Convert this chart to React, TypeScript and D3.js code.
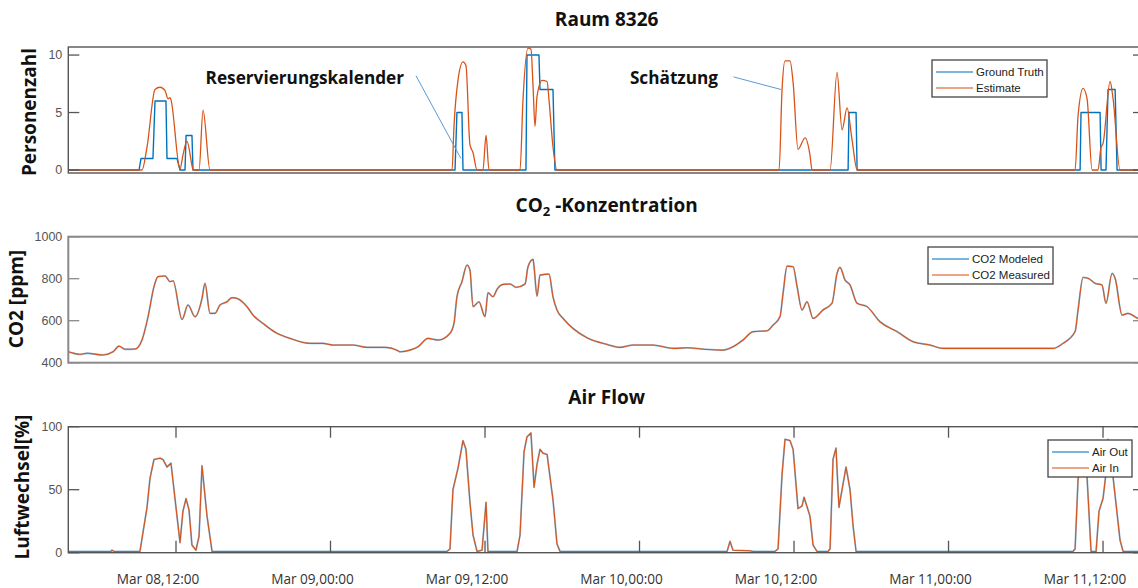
import React from 'react';
import * as d3 from 'd3';

// time axis: hours counted from Mar 08 00:00 (UTC so no DST surprises)
const baseTime = Date.UTC(2019, 2, 8, 0, 0, 0);
const at = (h: number) => new Date(baseTime + h * 3600 * 1000);

const tStart = 3.635;
const tEnd = 87.26;

// Raum 8326 - persons [hour, value]
const groundTruth: [number, number][] = [
  [3.635, 0], [9.13, 0], [9.28, 1], [10.21, 1], [10.37, 6], [11.22, 6], [11.3, 1], [12.08, 1], [12.31, 0],
  [12.7, 0], [12.78, 3], [13.24, 3], [13.32, 0], [33.67, 0], [33.82, 5], [34.21, 5], [34.29, 0],
  [39.18, 0], [39.26, 10], [40.19, 10], [40.27, 7], [41.28, 7], [41.43, 0], [64.2, 0], [64.27, 5],
  [64.82, 5], [64.9, 0], [82.22, 0], [82.29, 5], [83.77, 5], [83.85, 0], [84.23, 0], [84.39, 7],
  [84.94, 7], [85.09, 0], [87.26, 0],
];

const estimate: [number, number][] = [
  [3.635, 0], [9.36, 0], [9.75, 2.0], [10.37, 7.0], [10.76, 7.2], [11.15, 6.9], [11.38, 6.2], [11.53, 6.3],
  [11.61, 6.1], [12.31, 0.1], [12.54, 1.3], [12.85, 2.5], [13.24, 0.4], [13.32, 0], [13.79, 0], [14.1, 5.2],
  [14.64, 0], [33.44, 0], [33.59, 3.8], [33.9, 7.8], [34.29, 9.4], [34.52, 9.1], [34.83, 2.2], [35.07, 1.5],
  [35.38, 0], [35.84, 0], [36.08, 3.0], [36.31, 0], [38.72, 0], [38.95, 6.1], [39.34, 10.6], [39.57, 10.5],
  [39.73, 7.3], [39.88, 3.8], [40.04, 6.4], [40.43, 7.8], [40.82, 7.7], [40.97, 6.1], [41.28, 2.0], [41.59, 0],
  [58.84, 0], [59.07, 7.0], [59.3, 9.5], [59.69, 9.5], [59.93, 7.6], [60.31, 1.8], [60.86, 2.8], [61.24, 1.3],
  [61.4, 0], [62.8, 0], [63.34, 8.5], [63.73, 3.5], [64.12, 5.4], [64.51, 2.6], [64.9, 0], [81.83, 0],
  [82.06, 4.7], [82.45, 7.1], [82.76, 6.2], [83.15, 0], [83.61, 0], [83.85, 2.0], [84.0, 2.3], [84.55, 7.7],
  [84.78, 6.2], [85.32, 0], [87.26, 0],
];

// CO2 [ppm]
const co2Measured: [number, number][] = [
  [3.635, 452], [4.54, 440], [5.09, 445], [6.33, 437], [7.11, 452], [7.57, 479], [8.04, 464], [8.82, 465],
  [9.36, 508], [9.83, 619], [10.29, 762], [10.6, 810], [11.15, 813], [11.53, 786], [11.77, 790], [12.47, 606],
  [12.93, 675], [13.48, 619], [14.02, 706], [14.25, 778], [14.64, 635], [15.03, 635], [15.42, 675], [15.96, 690],
  [16.35, 710], [16.74, 706], [17.51, 667], [17.98, 627], [18.76, 587], [19.84, 540], [20.85, 516], [22.41, 492],
  [23.42, 492], [24.19, 484], [25.75, 484], [26.83, 473], [28.23, 473], [29.24, 457], [29.4, 452], [30.17, 460],
  [30.8, 476], [31.57, 516], [32.35, 508], [33.28, 540], [33.59, 587], [33.82, 714], [34.21, 786], [34.6, 865],
  [34.83, 841], [35.07, 667], [35.53, 690], [36.0, 619], [36.23, 733], [36.62, 714], [36.93, 749], [37.4, 773],
  [37.94, 775], [38.41, 759], [39.11, 775], [39.34, 857], [39.73, 892], [39.81, 857], [40.04, 717], [40.27, 817],
  [40.97, 822], [41.28, 714], [41.59, 651], [42.06, 611], [42.84, 563], [43.92, 519], [45.48, 487], [46.49, 473],
  [47.5, 484], [49.05, 484], [50.61, 468], [51.69, 471], [53.24, 463], [54.49, 460], [55.26, 476], [56.04, 508],
  [56.82, 548], [57.9, 552], [58.37, 579], [58.91, 619], [59.15, 730], [59.46, 860], [59.93, 857], [60.24, 762],
  [60.62, 651], [61.01, 690], [61.48, 611], [62.25, 651], [62.95, 683], [63.34, 825], [63.57, 854], [63.96, 794],
  [64.35, 770], [64.9, 683], [65.67, 667], [66.68, 595], [68.0, 548], [69.24, 500], [70.56, 484], [71.57, 468],
  [80.12, 468], [80.89, 492], [81.83, 548], [82.06, 651], [82.45, 806], [82.84, 802], [83.38, 778], [83.92, 770],
  [84.23, 683], [84.7, 825], [84.94, 802], [85.48, 627], [85.94, 635], [86.72, 611], [87.26, 605],
];
// model follows the measurement so closely the two lines coincide
const co2Modeled: [number, number][] = co2Measured.map(d => [d[0], d[1]]);

// air flow [%]
const airIn: [number, number][] = [
  [3.635, 1], [6.95, 1], [7.03, 2], [7.2, 1], [9.2, 1], [9.75, 36], [9.98, 59], [10.29, 74], [10.76, 75],
  [10.99, 74], [11.3, 68], [11.61, 71], [12.31, 8], [12.54, 33], [12.78, 43], [13.01, 34], [13.24, 6], [13.55, 2],
  [13.79, 13], [14.02, 69], [14.41, 29], [14.8, 1], [33.05, 1], [33.28, 3], [33.51, 50], [33.9, 67], [34.29, 89],
  [34.52, 82], [34.83, 40], [35.07, 14], [35.38, 1], [35.77, 2], [36.08, 40], [36.23, 1], [38.49, 1], [38.72, 14],
  [39.03, 80], [39.26, 92], [39.57, 95], [39.81, 52], [40.04, 70], [40.27, 82], [40.5, 79], [40.82, 78], [41.28, 42],
  [41.59, 7], [41.83, 1], [54.8, 1], [55.03, 9], [55.26, 2], [56.58, 1.5], [56.82, 1], [58.52, 1], [58.76, 3],
  [59.07, 62], [59.3, 90], [59.69, 89], [59.93, 82], [60.31, 35], [60.62, 37], [60.78, 44], [61.24, 29], [61.48, 6],
  [61.79, 1], [62.64, 1], [62.8, 3], [63.03, 74], [63.26, 83], [63.49, 36], [64.04, 68], [64.35, 50], [64.59, 21],
  [64.82, 1], [81.67, 1], [81.83, 3], [82.06, 58], [82.45, 88], [82.76, 60], [83.07, 1], [83.46, 1], [83.69, 33],
  [84.0, 43], [84.23, 63], [84.39, 90], [84.78, 60], [85.32, 10], [85.56, 1], [87.26, 1],
];
const airOut: [number, number][] = airIn.map(d => [d[0], d[1]]);

const personTicks = [0, 5, 10];
const co2Ticks = [400, 600, 800, 1000];
const airTicks = [0, 50, 100];

const BLUE = '#0072BD';
const ORANGE = '#D95319';
const sans = '"Liberation Sans", Arial, sans-serif';
const bold = '"Open Sans", sans-serif';

const W = 1138;
const H = 588;
const left = 68.3;
const right = 1145;

const x = d3.scaleUtc().domain([at(tStart), at(tEnd)]).range([left, right]);
const timeTicks = x.ticks(d3.utcHour.every(12) as any);
const fmt = d3.utcFormat('%b %d,%H:%M');

type Series = { name: string; color: string; width: number; opacity?: number; smooth?: boolean; data: [number, number][] };

function Panel(props: {
  id: string; top: number; bottom: number; domain: [number, number]; ticks: number[];
  series: Series[]; frame: string; frameWidth: number; xTicks?: boolean;
  legend: { x: number; y: number; w: number; names: string[] };
}) {
  const { id, top, bottom, domain, ticks, series, frame, frameWidth, xTicks, legend } = props;
  const y = d3.scaleLinear().domain(domain).range([bottom, top]);
  const line = (s: Series) => d3.line<[number, number]>()
    .x(d => x(at(d[0])))
    .y(d => y(d[1]))
    .curve(s.smooth ? d3.curveMonotoneX : d3.curveLinear)(s.data) || '';
  return (
    <g>
      <clipPath id={'clip-' + id}>
        <rect x={left} y={top} width={right - left} height={bottom - top} />
      </clipPath>
      <g clipPath={`url(#clip-${id})`}>
        {series.map(s => (
          <path key={s.name} d={line(s)} fill="none" stroke={s.color} strokeWidth={s.width}
            strokeOpacity={s.opacity ?? 1} strokeLinejoin="round" />
        ))}
      </g>
      <rect x={left} y={top} width={right - left} height={bottom - top} fill="none" stroke={frame}
        strokeWidth={frameWidth} />
      {ticks.map(t => (
        <g key={t}>
          <line x1={left} x2={left + 11} y1={y(t)} y2={y(t)} stroke={frame} strokeWidth={1.3} />
          <line x1={right - 12} x2={right} y1={y(t)} y2={y(t)} stroke={frame} strokeWidth={1.3} />
          <text x={left - 6} y={y(t)} dy="0.35em" textAnchor="end" fontFamily={sans} fontSize={12.5}
            fill="#555">{t}</text>
        </g>
      ))}
      {xTicks && timeTicks.map(t => (
        <g key={+t}>
          <line x1={x(t)} x2={x(t)} y1={top} y2={top + 11} stroke={frame} strokeWidth={1.3} />
          <line x1={x(t)} x2={x(t)} y1={bottom - 12} y2={bottom} stroke={frame} strokeWidth={1.3} />
          <text x={x(t)} dx={-18} y={bottom + 31} textAnchor="middle" fontFamily={bold} fontSize={13.6}
            fill="#333">{fmt(t)}</text>
        </g>
      ))}
      <g>
        <rect x={legend.x} y={legend.y} width={legend.w} height={37} fill="#fff" stroke="#444" strokeWidth={1.3} />
        {legend.names.map((n, i) => (
          <g key={n}>
            <line x1={legend.x + 4} x2={legend.x + 41} y1={legend.y + 12 + i * 16} y2={legend.y + 12 + i * 16}
              stroke={i === 0 ? BLUE : ORANGE} strokeOpacity={0.7} strokeWidth={1.5} />
            <text x={legend.x + 44} y={legend.y + 12 + i * 16} dy="0.35em" fontFamily={sans} fontSize={11.5}
              fill="#222">{n}</text>
          </g>
        ))}
      </g>
    </g>
  );
}

// annotation callouts, anchored in data coordinates of the top panel
const callouts = [
  { label: 'Reservierungskalender', textT: 29.71, fromT: 30.64, fromV: 8.2, toT: 34.13, toV: 1.0 },
  { label: 'Schätzung', textT: 54.1, fromT: 55.3, fromV: 8.1, toT: 59.0, toV: 7.0 },
];

const titleSize = 19;

export default function App() {
  const yTop = d3.scaleLinear().domain([-0.26, 10.7]).range([173, 47]);
  return (
    <svg width={W} height={H} style={{ position: 'absolute', left: 0, top: 0, background: '#fff' }}>
      <rect width={W} height={H} fill="#fff" />
      <text x={(left + right) / 2} y={26} textAnchor="middle" fontFamily={bold} fontWeight={700}
        fontSize={titleSize} fill="#111">Raum 8326</text>
      <text x={(left + right) / 2} y={212} textAnchor="middle" fontFamily={bold} fontWeight={700}
        fontSize={titleSize} fill="#111">CO<tspan dy={4} fontSize={13}>2</tspan><tspan dy={-4}> -Konzentration</tspan></text>
      <text x={(left + right) / 2} y={404} textAnchor="middle" fontFamily={bold} fontWeight={700}
        fontSize={titleSize} fill="#111">Air Flow</text>

      <text transform="translate(36,112) rotate(-90)" textAnchor="middle" fontFamily={bold} fontWeight={700}
        fontSize={titleSize} fill="#111">Personenzahl</text>
      <text transform="translate(23,299) rotate(-90)" textAnchor="middle" fontFamily={bold} fontWeight={700}
        fontSize={titleSize} fill="#111">CO2 [ppm]</text>
      <text transform="translate(29,487) rotate(-90)" textAnchor="middle" fontFamily={bold} fontWeight={700}
        fontSize={titleSize} fill="#111">Luftwechsel[%]</text>

      <Panel id="p" top={47} bottom={173} domain={[-0.26, 10.7]} ticks={personTicks} frame="#555" frameWidth={1.4}
        series={[
          { name: 'Ground Truth', color: BLUE, width: 1.4, data: groundTruth },
          { name: 'Estimate', color: ORANGE, width: 1.3, smooth: true, data: estimate },
        ]}
        legend={{ x: 932, y: 60, w: 115, names: ['Ground Truth', 'Estimate'] }} />
      <Panel id="c" top={236.7} bottom={362.7} domain={[400, 1000]} ticks={co2Ticks} frame="#8a8a8a" frameWidth={2}
        series={[
          { name: 'CO2 Modeled', color: BLUE, width: 1.8, opacity: 0.45, smooth: true, data: co2Modeled },
          { name: 'CO2 Measured', color: ORANGE, width: 1.1, smooth: true, data: co2Measured },
        ]}
        legend={{ x: 928, y: 247, w: 125, names: ['CO2 Modeled', 'CO2 Measured'] }} />
      <Panel id="a" top={426.7} bottom={552.7} domain={[0, 100]} ticks={airTicks} frame="#555" frameWidth={1.4}
        xTicks
        series={[
          { name: 'Air Out', color: BLUE, width: 1.8, opacity: 0.45, data: airOut },
          { name: 'Air In', color: ORANGE, width: 1.1, data: airIn },
        ]}
        legend={{ x: 1048, y: 440, w: 84, names: ['Air Out', 'Air In'] }} />

      {callouts.map(c => (
        <g key={c.label}>
          <line x1={x(at(c.fromT))} y1={yTop(c.fromV)} x2={x(at(c.toT))} y2={yTop(c.toV)} stroke="#5b9bd5"
            strokeWidth={1} />
          <text x={x(at(c.textT))} y={84} textAnchor="end" fontFamily={bold} fontWeight={700} fontSize={17.2}
            fill="#111">{c.label}</text>
        </g>
      ))}
    </svg>
  );
}
